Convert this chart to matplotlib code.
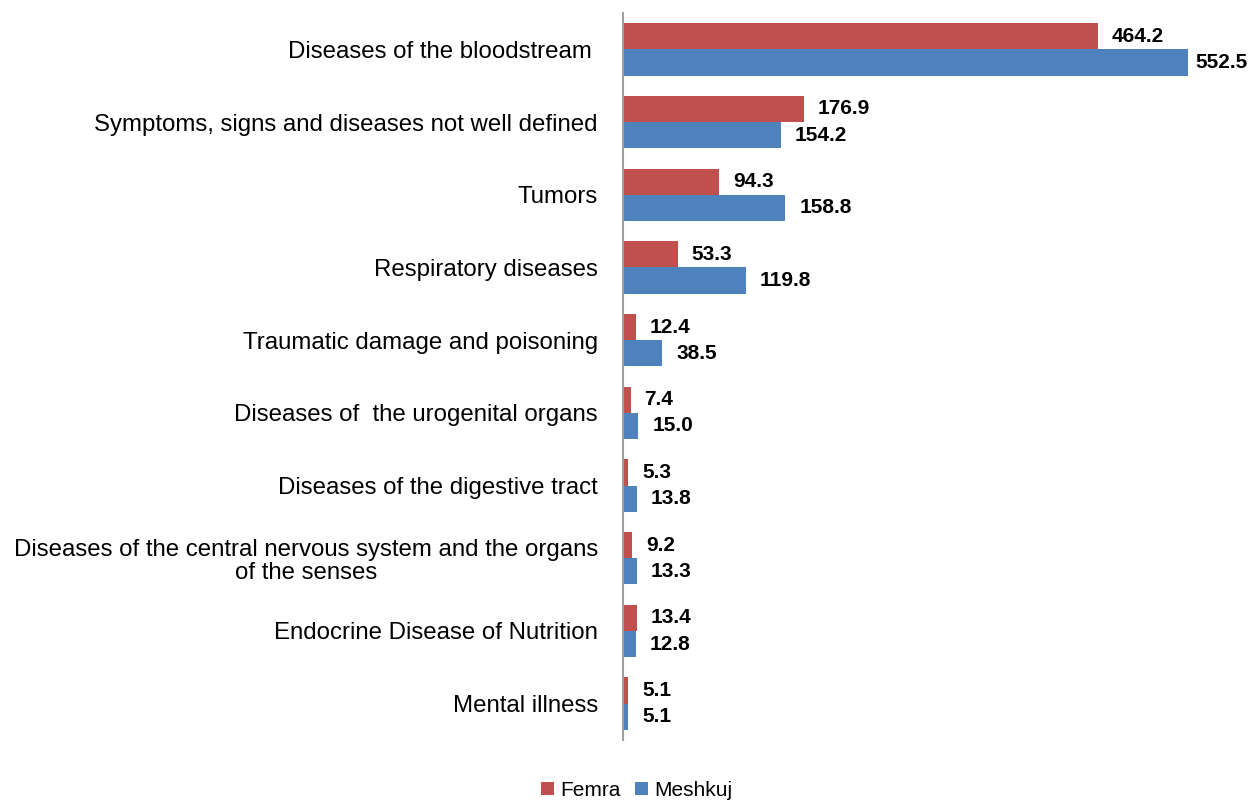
import matplotlib
matplotlib.use("Agg")
import matplotlib.pyplot as plt
import numpy as np

categories = [
    "Diseases of the bloodstream ",
    "Symptoms, signs and diseases not well defined",
    "Tumors",
    "Respiratory diseases",
    "Traumatic damage and poisoning",
    "Diseases of  the urogenital organs",
    "Diseases of the digestive tract",
    "Diseases of the central nervous system and the organs\nof the senses",
    "Endocrine Disease of Nutrition",
    "Mental illness",
]
femra = [464.2, 176.9, 94.3, 53.3, 12.4, 7.4, 5.3, 9.2, 13.4, 5.1]
meshkuj = [552.5, 154.2, 158.8, 119.8, 38.5, 15.0, 13.8, 13.3, 12.8, 5.1]

RED = "#C0504D"
BLUE = "#4F81BD"

plt.rcParams["font.family"] = ["Liberation Sans", "DejaVu Sans"]

fig = plt.figure(figsize=(12.51, 8.01), dpi=100)
ax = fig.add_axes([623 / 1251, 1 - 740 / 801, (1230 - 623) / 1251, (740 - 13) / 801])

y = np.arange(len(categories))
h = 0.36
ax.barh(y - h / 2, femra, height=h, color=RED, label="Femra")
ax.barh(y + h / 2, meshkuj, height=h, color=BLUE, label="Meshkuj")

# value labels, bold, just right of each bar (the longest one pulled in to fit)
top = max(femra + meshkuj)
for yi, (f, m) in enumerate(zip(femra, meshkuj)):
    for val, off in ((f, -h / 2), (m, h / 2)):
        pad = 5 if val == top else 10
        ax.annotate(f"{val:.1f}", (val, yi + off), xytext=(pad, 0), textcoords="offset points",
                    va="center", ha="left", fontsize=15, fontweight="bold")

ax.set_xlim(0, 607 / (565 / 552.5))
ax.set_ylim(len(categories) - 0.5, -0.5)
ax.set_yticks(y)
ax.set_yticklabels(categories, fontsize=17.3, multialignment="center", linespacing=1.1)
ax.tick_params(axis="y", length=0, pad=18)
ax.set_xticks([])
for s in ["top", "right", "bottom"]:
    ax.spines[s].set_visible(False)
ax.spines["left"].set_color("#A0A0A0")
ax.spines["left"].set_linewidth(1.5)

fig.legend(loc="lower center", bbox_to_anchor=(0.509, -0.022), ncol=2, frameon=False,
           fontsize=15, handlelength=0.6, handleheight=0.6, handletextpad=0.3,
           columnspacing=0.7)

fig.savefig("out.png", dpi=100)
